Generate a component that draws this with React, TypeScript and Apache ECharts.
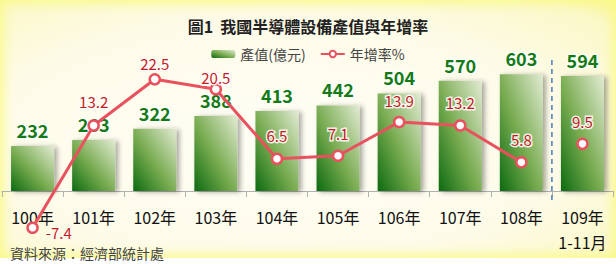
import React, { useEffect, useRef } from "react";
import * as echarts from "echarts";

const categories = ["100年", "101年", "102年", "103年", "104年", "105年", "106年", "107年", "108年", "109年\n1-11月"];
const outputValues = [232, 263, 322, 388, 413, 442, 504, 570, 603, 594];
const growthValues = [-7.4, 13.2, 22.5, 20.5, 6.5, 7.1, 13.9, 13.2, 5.8, 9.5];
const titleText = "圖1  我國半導體設備產值與年增率";
const sourceText = "資料來源：經濟部統計處";
const barName = "產值(億元)";
const lineName = "年增率%";

const FONT = "'Noto Sans CJK TC', 'Noto Sans', sans-serif";
const RED = "#e8515d";
const LABEL_RED = "#c41a20";
const GREEN = "#137a16";

export default function App() {
  const ref = useRef<HTMLDivElement>(null);
  useEffect(() => {
    if (!ref.current) return;
    const chart = echarts.init(ref.current, undefined, { renderer: "svg" });

    const labelOffsets: Record<number, any> = {
      0: { position: "right", distance: 7, offset: [0, 5], lineHeight: 14, textBorderWidth: 2 },
      1: { offset: [0, -1] },
      2: { offset: [0, 7] },
      3: { offset: [0, 11] },
      6: { offset: [0, 1] },
    };

    const lineData = growthValues.slice(0, 9).map((v, i) => {
      const o = labelOffsets[i];
      return o ? { value: v, label: o } : v;
    });
    const lastData = growthValues.map((v, i) => (i === 9 ? v : null));

    const lineCommon = {
      type: "line",
      name: lineName,
      yAxisIndex: 1,
      clip: false,
      symbol: "circle",
      symbolSize: 10,
      z: 5,
      lineStyle: { color: RED, width: 3 },
      itemStyle: { color: "#fff", borderColor: RED, borderWidth: 2.5 },
      label: {
        show: true,
        position: "top",
        distance: 9,
        color: LABEL_RED,
        fontSize: 15,
        fontFamily: FONT,
        textBorderColor: "rgba(255,255,255,0.85)",
        textBorderWidth: 3,
      },
    };

    chart.setOption({
      animation: false,
      backgroundColor: "transparent",
      textStyle: { fontFamily: FONT },
      title: {
        text: titleText,
        left: "center",
        top: 13,
        textStyle: { fontSize: 16, fontWeight: "bold", color: "#222", fontFamily: FONT },
      },
      legend: {
        data: [barName, lineName],
        left: "center",
        top: 42,
        itemWidth: 24,
        itemHeight: 8,
        itemGap: 14,
        textStyle: { fontSize: 14, color: "#444", fontFamily: FONT },
      },
      grid: { left: 2, right: 3, top: 51, bottom: 73, containLabel: false },
      xAxis: {
        type: "category",
        data: categories,
        boundaryGap: true,
        axisLine: { lineStyle: { color: "#b0b0b0", width: 1 } },
        axisTick: { show: true, length: 6, lineStyle: { color: "#b0b0b0" } },
        axisLabel: {
          color: "#111",
          fontSize: 16,
          margin: 13,
          lineHeight: 25,
          fontFamily: FONT,
          interval: 0,
        },
      },
      yAxis: [
        { type: "value", min: 0, max: 723.5, show: false, splitLine: { show: false } },
        { type: "value", min: 0, max: 28.2, show: false, splitLine: { show: false } },
      ],
      series: [
        {
          type: "bar",
          name: barName,
          data: outputValues,
          barWidth: 43,
          z: 2,
          itemStyle: {
            color: new echarts.graphic.LinearGradient(0, 1, 1, 0, [
              { offset: 0, color: "#0c6a10" },
              { offset: 0.45, color: "#76aa4e" },
              { offset: 1, color: "#e2ebd3" },
            ]),
            shadowColor: "rgba(0,0,0,0.35)",
            shadowBlur: 5,
            shadowOffsetX: 3,
            shadowOffsetY: 1,
          },
          label: {
            show: true,
            position: "top",
            distance: 7,
            color: GREEN,
            fontSize: 18,
            fontWeight: "bold",
            fontFamily: FONT,
            textBorderColor: "rgba(255,255,255,0.8)",
            textBorderWidth: 3,
          },
        },
        { ...lineCommon, data: lineData },
        { ...lineCommon, data: lastData },
      ],
    });

    const x8 = chart.convertToPixel({ xAxisIndex: 0 }, 8) as number;
    const x9 = chart.convertToPixel({ xAxisIndex: 0 }, 9) as number;
    const sepX = (x8 + x9) / 2;
    chart.setOption({
      graphic: [
        {
          type: "line",
          shape: { x1: sepX, y1: 60, x2: sepX, y2: 203 },
          style: { stroke: "#4a7ab5", lineWidth: 1.5, lineDash: [5, 4] },
          z: 10,
        },
        {
          type: "text",
          left: 10,
          top: 246,
          style: { text: sourceText, fontSize: 14, lineHeight: 14, fill: "#444", fontFamily: FONT },
        },
      ],
    });

    return () => chart.dispose();
  }, []);

  return (
    <div style={{ position: "fixed", left: 0, top: 0, width: 616, height: 264, background: "#fff" }}>
      <div
        style={{
          position: "absolute",
          left: 0,
          top: 0,
          width: 616,
          height: 258,
          background: "radial-gradient(ellipse at 45% 55%, #fffef6 0%, #fdfbe8 60%, #fbf8c8 90%, #f8f590 100%)",
          boxShadow: "inset 0 0 12px 3px #fafa88",
        }}
      />
      <div ref={ref} style={{ position: "absolute", left: 0, top: 0, width: 616, height: 264 }} />
    </div>
  );
}
